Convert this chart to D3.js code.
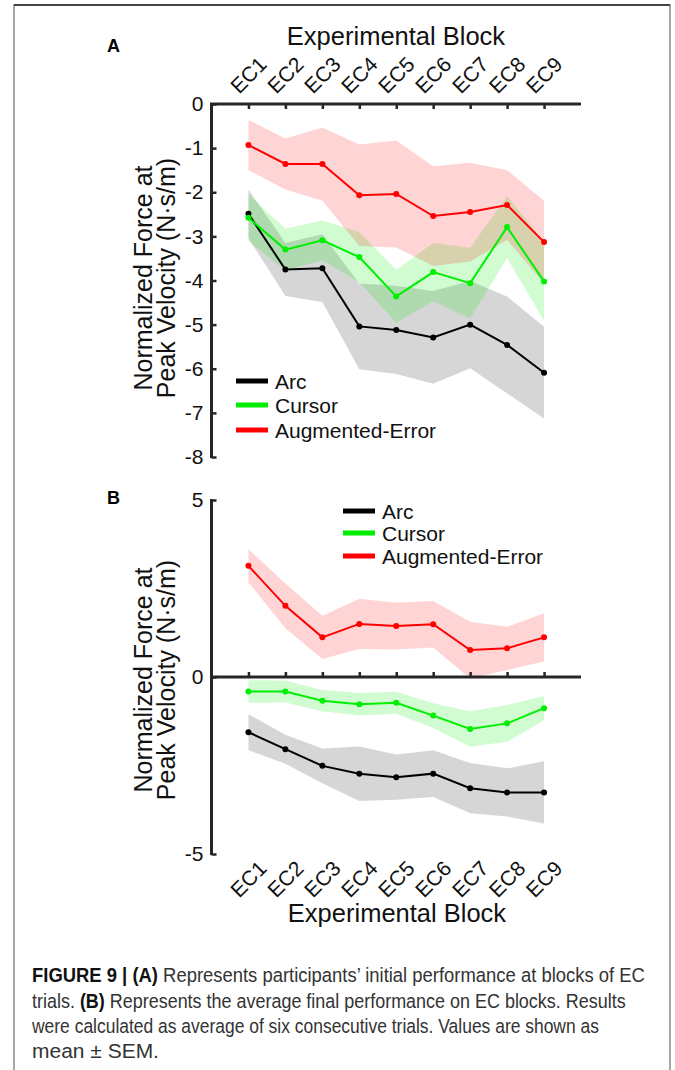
<!DOCTYPE html>
<html><head><meta charset="utf-8">
<script src="https://cdn.jsdelivr.net/npm/d3@7"></script>
<style>body{margin:0;background:#fff}svg{display:block}text{font-family:"Liberation Sans",Arial,sans-serif}</style>
</head><body>
<svg id="c" width="675" height="1070"></svg>
<script>
const categories = ["EC1","EC2","EC3","EC4","EC5","EC6","EC7","EC8","EC9"];
// Panel A (initial performance): mean and SEM
const aArc = [-2.49,-3.75,-3.72,-5.04,-5.12,-5.29,-5.0,-5.46,-6.09];
const aArcSem = [0.55,0.6,0.77,0.97,1.0,1.05,0.99,1.1,1.04];
const aCursor = [-2.58,-3.3,-3.09,-3.47,-4.36,-3.81,-4.06,-2.79,-4.02];
const aCursorSem = [0.53,0.47,0.45,0.57,0.6,0.66,0.8,0.7,0.9];
const aAE = [-0.93,-1.36,-1.36,-2.07,-2.04,-2.54,-2.45,-2.29,-3.13];
const aAESem = [0.57,0.58,0.83,1.15,1.21,1.13,1.12,0.79,0.94];
// Panel B (final performance)
const bArc = [-1.56,-2.04,-2.51,-2.73,-2.83,-2.73,-3.14,-3.26,-3.26];
const bArcSem = [0.51,0.41,0.49,0.77,0.64,0.66,0.71,0.68,0.88];
const bCursor = [-0.41,-0.41,-0.67,-0.77,-0.73,-1.09,-1.47,-1.31,-0.88];
const bCursorSem = [0.32,0.31,0.3,0.32,0.31,0.35,0.5,0.52,0.34];
const bAE = [3.14,2.01,1.12,1.5,1.44,1.49,0.76,0.81,1.12];
const bAESem = [0.47,0.63,0.61,0.71,0.66,0.66,0.8,0.61,0.68];
const aTicks = [0,-1,-2,-3,-4,-5,-6,-7,-8];
const bTicks = [5,0,-5];
const seriesNames = ["Arc","Cursor","Augmented-Error"];
const seriesColors = ["#000000","#00ee00","#ff0000"];

const svg = d3.select("#c");
const F = '"Liberation Sans",Arial,sans-serif';
const axisCol = "#262626";

// frame
svg.append("rect").attr("x",14).attr("y",5).attr("width",656).attr("height",1080)
  .attr("fill","none").attr("stroke","#8a8a8a").attr("stroke-width",1.5);
svg.append("line").attr("x1",14).attr("x2",670).attr("y1",5).attr("y2",5).attr("stroke","#222").attr("stroke-width",1.5);

const x = d3.scaleLinear().domain([0,10]).range([211.5,581]);
const idx = categories.map((c,i)=>i+1);

function drawSeries(g, y, means, sems, color, alpha){
  const data = means.map((m,i)=>({i:idx[i],m,s:sems[i]}));
  const area = d3.area().x(d=>x(d.i)).y0(d=>y(d.m-d.s)).y1(d=>y(d.m+d.s));
  g.append("path").datum(data).attr("d",area).attr("fill",color).attr("fill-opacity",alpha).attr("stroke","none");
  return data;
}
function drawLine(g, y, data, color){
  const line = d3.line().x(d=>x(d.i)).y(d=>y(d.m));
  g.append("path").datum(data).attr("d",line).attr("fill","none").attr("stroke",color).attr("stroke-width",2);
  g.selectAll(null).data(data).enter().append("circle").attr("cx",d=>x(d.i)).attr("cy",d=>y(d.m)).attr("r",3).attr("fill",color);
}

function panel(y, sets, alphas){
  const g = svg.append("g");
  const ds = sets.map((s,k)=>drawSeries(g,y,s[0],s[1],seriesColors[k],alphas[k]));
  ds.forEach((d,k)=>drawLine(g,y,d,seriesColors[k]));
  return g;
}

function legend(x0, ys){
  seriesNames.forEach((n,k)=>{
    svg.append("line").attr("x1",x0).attr("x2",x0+32).attr("y1",ys[k]).attr("y2",ys[k])
      .attr("stroke",seriesColors[k]).attr("stroke-width",5);
    svg.append("text").attr("x",x0+39).attr("y",ys[k]+7.5).attr("font-size",21).attr("fill","#111").text(n);
  });
}

function ylabel(cy){
  const t = svg.append("text").attr("transform",`translate(0,${cy}) rotate(-90)`)
    .attr("text-anchor","middle").attr("font-size",25).attr("fill","#111");
  t.append("tspan").attr("x",0).attr("y",152).text("Normalized Force at");
  t.append("tspan").attr("x",0).attr("y",175).text("Peak Velocity (N·s/m)");
}

function xLabels(cy){
  svg.selectAll(null).data(categories).enter().append("text")
    .attr("transform",(d,i)=>`translate(${x(idx[i])},${cy}) rotate(-45)`)
    .attr("text-anchor","middle").attr("dy","0.35em").attr("font-size",21).attr("fill","#111").text(d=>d);
}

// ===== Panel A =====
const yA = d3.scaleLinear().domain([0,-8]).range([104,457]);
panel(yA, [[aArc,aArcSem],[aCursor,aCursorSem],[aAE,aAESem]], [0.16,0.18,0.17]);
const axAy = svg.append("g").attr("transform","translate(211.5,0)")
  .call(d3.axisRight(yA).tickValues(aTicks).tickSize(5).tickFormat(d=>d===0?"0":"-"+Math.abs(d)));
axAy.select(".domain").remove();
axAy.selectAll(".tick line").attr("stroke",axisCol).attr("stroke-width",2.5);
axAy.selectAll(".tick text").attr("x",-8).attr("text-anchor","end").attr("font-size",21).attr("font-family",F).attr("fill","#111");
svg.append("line").attr("x1",211.5).attr("x2",211.5).attr("y1",103).attr("y2",458).attr("stroke",axisCol).attr("stroke-width",3);
const axAx = svg.append("g").attr("transform","translate(0,104)")
  .call(d3.axisBottom(x).tickValues(idx).tickSize(5).tickFormat(""));
axAx.select(".domain").remove();
axAx.selectAll(".tick line").attr("stroke",axisCol).attr("stroke-width",2.5);
svg.append("line").attr("x1",210).attr("x2",581).attr("y1",104).attr("y2",104).attr("stroke",axisCol).attr("stroke-width",3);
xLabels(75);
svg.append("text").attr("x",396).attr("y",45).attr("text-anchor","middle").attr("font-size",25.5).attr("fill","#111").text("Experimental Block");
svg.append("text").attr("x",107).attr("y",52).attr("font-size",18).attr("font-weight","bold").text("A");
ylabel(278);
legend(236,[381,405,430]);

// ===== Panel B =====
const yB = d3.scaleLinear().domain([5,-5]).range([500,854]);
panel(yB, [[bArc,bArcSem],[bCursor,bCursorSem],[bAE,bAESem]], [0.16,0.18,0.17]);
const axBy = svg.append("g").attr("transform","translate(211.5,0)")
  .call(d3.axisRight(yB).tickValues(bTicks).tickSize(5).tickFormat(d=>d<0?"-"+Math.abs(d):String(d)));
axBy.select(".domain").remove();
axBy.selectAll(".tick line").attr("stroke",axisCol).attr("stroke-width",2.5);
axBy.selectAll(".tick text").attr("x",-8).attr("text-anchor","end").attr("font-size",21).attr("font-family",F).attr("fill","#111");
svg.append("line").attr("x1",211.5).attr("x2",211.5).attr("y1",499).attr("y2",855).attr("stroke",axisCol).attr("stroke-width",3);
const axBx = svg.append("g").attr("transform",`translate(0,${yB(0)})`)
  .call(d3.axisTop(x).tickValues(idx).tickSize(5).tickFormat(""));
axBx.select(".domain").remove();
axBx.selectAll(".tick line").attr("stroke",axisCol).attr("stroke-width",2.5);
svg.append("line").attr("x1",210).attr("x2",581).attr("y1",yB(0)).attr("y2",yB(0)).attr("stroke",axisCol).attr("stroke-width",3);
xLabels(879);
svg.append("text").attr("x",397).attr("y",922).attr("text-anchor","middle").attr("font-size",25.5).attr("fill","#111").text("Experimental Block");
svg.append("text").attr("x",107).attr("y",504).attr("font-size",18).attr("font-weight","bold").text("B");
ylabel(680);
legend(343,[511,533,556]);

// ===== Caption =====
const capLines = [
  {y:982, len:613, parts:[["FIGURE 9 | (A)",true],[" Represents participants’ initial performance at blocks of EC",false]]},
  {y:1008, len:594, parts:[["trials. ",false],["(B)",true],[" Represents the average final performance on EC blocks. Results",false]]},
  {y:1033, len:567, parts:[["were calculated as average of six consecutive trials. Values are shown as",false]]},
  {y:1058, len:127, parts:[["mean ± SEM.",false]]}
];
capLines.forEach(l=>{
  const t = svg.append("text").attr("x",0).attr("y",0).attr("font-size",19.5).attr("fill","#333")
    .attr("font-family",'"Liberation Sans Narrow","Liberation Sans",Arial,sans-serif');
  l.parts.forEach(p=>t.append("tspan").attr("font-weight",p[1]?"bold":"normal").attr("fill",p[1]?"#111":"#333").text(p[0]));
  const w = t.node().getComputedTextLength();
  t.attr("transform",`translate(32,${l.y}) scale(${l.len/w},1)`);
});
</script>
</body></html>
